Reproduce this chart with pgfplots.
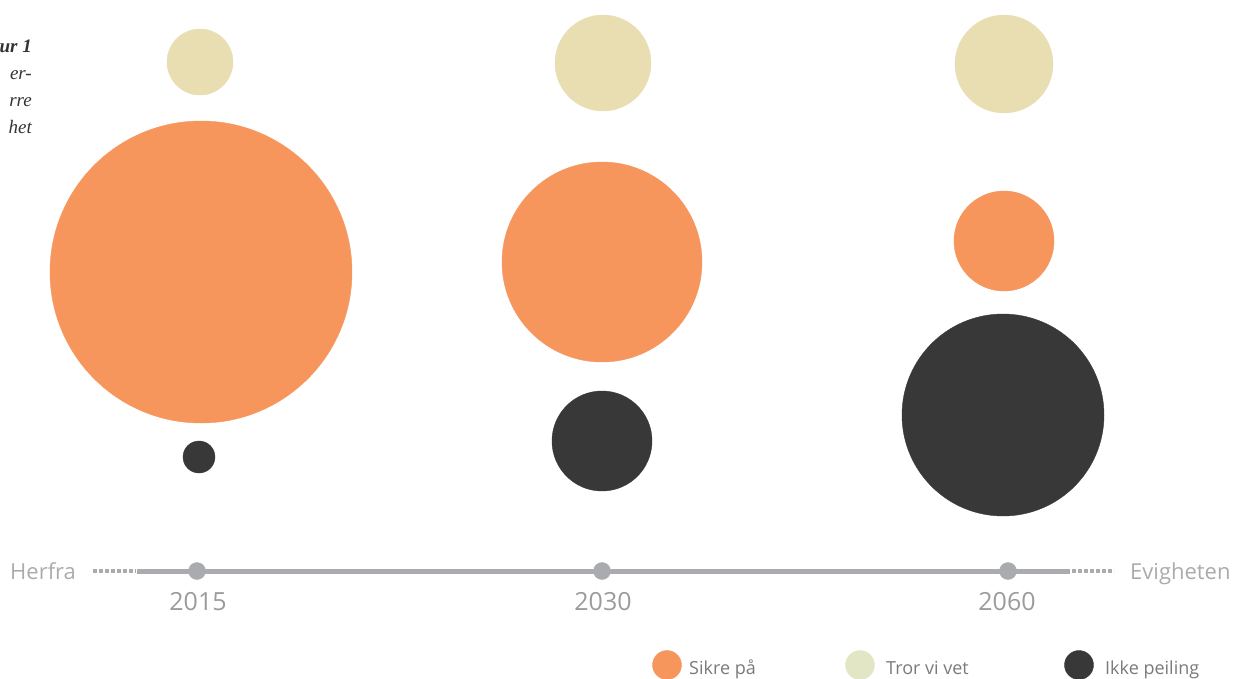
\documentclass[border=0pt]{standalone}
\usepackage{fontspec}
\setmainfont{Open Sans}
\newfontfamily\serifit{Liberation Serif}
\usepackage{pgfplots}
\usepackage{pgfplotstable}
\pgfplotsset{compat=1.18}
\definecolor{csikre}{HTML}{F6955C}
\definecolor{ctror}{HTML}{E9DDB2}
\definecolor{cikke}{HTML}{383838}
\definecolor{cline}{HTML}{A9ABAE}
\definecolor{ctext}{HTML}{ABABAB}
\definecolor{cyear}{HTML}{9B9B9B}
\definecolor{cleg}{HTML}{7A7A7A}
\definecolor{ctrorleg}{HTML}{E3E6C4}

% x, y in pixel units (y measured from the top), r = bubble radius
\pgfplotstableread{
x y r
201 272 151
602 262 100
1004 241 50
}\sikre
\pgfplotstableread{
x y r
200 62 33
603 63 48
1004 64 49
}\tror
\pgfplotstableread{
x y r
199 457 16
602 441 50
1003 415 101
}\ikke
\pgfplotstableread{
x y r
667 665 14.5
}\legsikre
\pgfplotstableread{
x y r
860 665 14.5
}\legtror
\pgfplotstableread{
x y r
1079 665 14.5
}\legikke

\pgfplotsset{
  bubble/.style={scatter, only marks, mark=*,
    scatter/use mapped color={draw=#1, fill=#1},
    visualization depends on={\thisrow{r}\as\rad},
    scatter/@pre marker code/.append style={/tikz/mark size=\rad}},
}

\begin{document}
\begin{tikzpicture}
\begin{axis}[
  anchor=south west, at={(0,0)},
  scale only axis, width=1235pt, height=678pt,
  xmin=0, xmax=1235, ymin=0, ymax=678, y dir=reverse,
  axis lines=none, clip=false,
]
\addplot[bubble=ctror] table[x=x,y=y] {\tror};
\addplot[bubble=csikre] table[x=x,y=y] {\sikre};
\addplot[bubble=cikke] table[x=x,y=y] {\ikke};

% timeline
\addplot[cline, line width=5pt, no marks] coordinates {(137,571) (1070,571)};
\addplot[cline, line width=3.5pt, no marks, dash pattern=on 3.5pt off 2.5pt] coordinates {(93,571) (136,571)};
\addplot[cline, line width=3.5pt, no marks, dash pattern=on 3.5pt off 2.5pt] coordinates {(1072,571) (1114,571)};
\addplot[only marks, mark=*, mark size=8.5, cline] coordinates {(197,571) (602,571) (1008,571)};

\node[cyear, font=\fontsize{25}{30}\selectfont] at (axis cs:198,602) {2015};
\node[cyear, font=\fontsize{25}{30}\selectfont] at (axis cs:603,602) {2030};
\node[cyear, font=\fontsize{25}{30}\selectfont] at (axis cs:1007,602) {2060};
\node[ctext, font=\fontsize{22}{26}\selectfont, anchor=base west, inner sep=0pt] at (axis cs:10,579) {Herfra};
\node[ctext, font=\fontsize{22}{26}\selectfont, anchor=base west, inner sep=0pt] at (axis cs:1130,579) {Evigheten};

% legend
\addplot[bubble=csikre] table[x=x,y=y] {\legsikre};
\addplot[bubble=ctrorleg] table[x=x,y=y] {\legtror};
\addplot[bubble=cikke] table[x=x,y=y] {\legikke};
\node[cleg, font=\fontsize{18}{21}\selectfont, anchor=base west, inner sep=0pt] at (axis cs:689,674) {Sikre på};
\node[cleg, font=\fontsize{18}{21}\selectfont, anchor=base west, inner sep=0pt] at (axis cs:886,674) {Tror vi vet};
\node[cleg, font=\fontsize{18}{21}\selectfont, anchor=base west, inner sep=0pt] at (axis cs:1105,674) {Ikke peiling};

% cropped caption at left edge
\node[font=\serifit\bfseries\itshape\fontsize{19}{23}\selectfont, anchor=base east, inner sep=0pt, text=black!80] at (axis cs:32,52) {ur 1};
\node[font=\serifit\itshape\fontsize{19}{23}\selectfont, anchor=base east, inner sep=0pt, text=black!80] at (axis cs:32,79) {er-};
\node[font=\serifit\itshape\fontsize{19}{23}\selectfont, anchor=base east, inner sep=0pt, text=black!80] at (axis cs:32,106) {rre};
\node[font=\serifit\itshape\fontsize{19}{23}\selectfont, anchor=base east, inner sep=0pt, text=black!80] at (axis cs:32,133) {het};
\end{axis}
\pgfresetboundingbox
\path[use as bounding box] (0,0) rectangle (1235pt,678pt);
\end{tikzpicture}
\end{document}
